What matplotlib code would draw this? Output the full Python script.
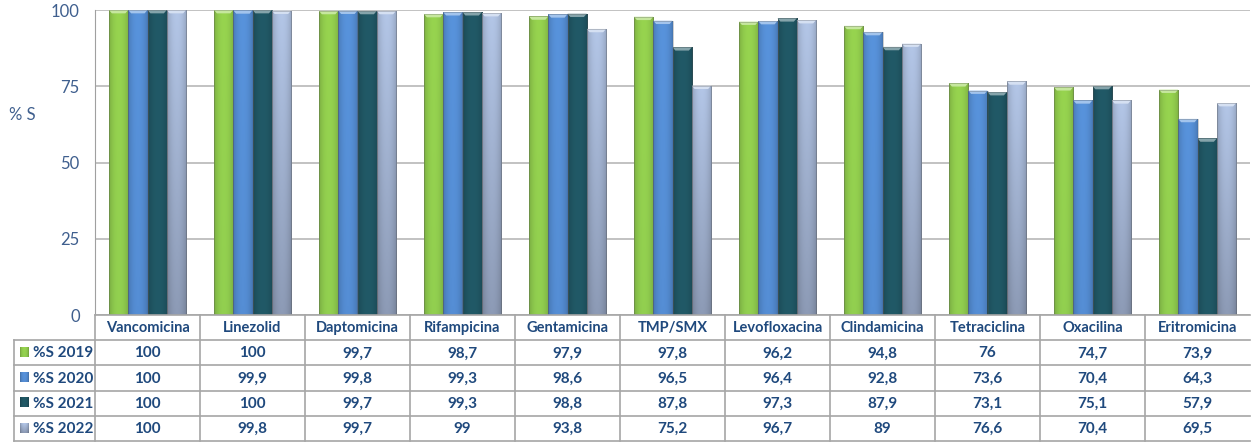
import numpy as np
import matplotlib; matplotlib.use('Agg')
import matplotlib.pyplot as plt
from matplotlib.colors import to_rgb
from matplotlib.patches import Polygon, Rectangle

antibioticos = ['Vancomicina', 'Linezolid', 'Daptomicina', 'Rifampicina', 'Gentamicina',
                'TMP/SMX', 'Levofloxacina', 'Clindamicina', 'Tetraciclina', 'Oxacilina',
                'Eritromicina']
series = ['%S 2019', '%S 2020', '%S 2021', '%S 2022']
s2019 = [100, 100, 99.7, 98.7, 97.9, 97.8, 96.2, 94.8, 76, 74.7, 73.9]
s2020 = [100, 99.9, 99.8, 99.3, 98.6, 96.5, 96.4, 92.8, 73.6, 70.4, 64.3]
s2021 = [100, 100, 99.7, 99.3, 98.8, 87.8, 97.3, 87.9, 73.1, 75.1, 57.9]
s2022 = [100, 99.8, 99.7, 99, 93.8, 75.2, 96.7, 89, 76.6, 70.4, 69.5]
valores = [s2019, s2020, s2021, s2022]
yticks = [0, 25, 50, 75, 100]

colores = ['#97D44F', '#5893DC', '#215967', '#B3C6E7']
col_base = ['#92D050', '#558ED5', '#215967', '#8D9BB6']  # tono inferior del degradado
txt = '#1F497D'
tick_c = '#3F5F8E'
grid_c = '#B8B8B8'
plt.rcParams['font.family'] = ['Lato', 'DejaVu Sans']

W, H = 1251, 443
L, R, TOP, BOT = 95, 1250, 10, 315
fig = plt.figure(figsize=(W / 100, H / 100), dpi=100)
ax = fig.add_axes([L / W, (H - BOT) / H, (R - L) / W, (BOT - TOP) / H])

n = len(antibioticos)
x = np.arange(n)
bw = 0.1835

def fill_img(c_top, c_bot, ny=60, nx=24):
    t = np.linspace(0, 1, nx)
    prof = 0.80 + 0.20 * np.sin(np.pi * t) ** 0.6
    v = np.linspace(0, 1, ny)[:, None, None]
    ct = np.array(to_rgb(c_top)); cb = np.array(to_rgb(c_bot))
    col = ct * (1 - v) + cb * v
    return np.clip(col * prof[None, :, None], 0, 1)

for j, vals in enumerate(valores):
    pos = x + (j - 1.5) * bw
    bars = ax.bar(pos, vals, width=bw, color=colores[j], edgecolor='none', zorder=2)
    img = fill_img(colores[j], col_base[j])
    top_c = tuple(min(1, c * 0.55 + 0.45) for c in to_rgb(colores[j]))
    for b in bars:
        x0, w, h = b.get_x(), b.get_width(), b.get_height()
        im = ax.imshow(img, extent=[x0, x0 + w, 0, h], aspect='auto',
                       origin='upper', zorder=3, interpolation='bilinear')
        im.set_clip_path(b)
        # bisel claro arriba
        ax.add_patch(Polygon([[x0, h], [x0 + w, h], [x0 + w * 0.85, h - 1.1],
                              [x0 + w * 0.15, h - 1.1]], closed=True,
                             facecolor=top_c, edgecolor='none', zorder=4))
        ax.add_patch(Rectangle((x0, 0), w, h, fill=False, lw=0.6,
                               edgecolor=(0.35, 0.35, 0.35, 0.35), zorder=5))

ax.set_xlim(-0.5, n - 0.5)
ax.set_ylim(0, 100)
ax.set_yticks(yticks)
ax.set_yticklabels([str(t) for t in yticks], color=tick_c, fontsize=12)
ax.tick_params(axis='y', length=0, pad=11)
ax.set_xticks([])
ax.yaxis.grid(True, color=grid_c, lw=1.2, zorder=0)
ax.set_axisbelow(True)
for s in ['top', 'right', 'bottom']:
    ax.spines[s].set_visible(False)
ax.spines['left'].set_color('#A0A0A0')
ax.set_ylabel('% S', color=tick_c, fontsize=12, rotation=0, ha='center', va='center')
ax.yaxis.set_label_coords(-73 / (R - L), 0.656)

# tabla de datos bajo el grafico
rh = 25.2
cw = (R - L) / n
tax = fig.add_axes([L / W, 0, (R - L) / W, (H - BOT) / H])
tax.axis('off')
xl = -0.5 - (L - 14) / cw
lc = '#A6A6A6'
for k in range(n):
    tax.plot([k - 0.5, k - 0.5], [0, 5], color=lc, lw=1.2, clip_on=False)
    tax.text(k, 0.52, antibioticos[k], ha='center', va='center', color=txt,
             fontsize=10.5, fontweight='bold')
    for j, vals in enumerate(valores):
        lab = f'{vals[k]:g}'.replace('.', ',')
        tax.text(k, j + 1.52, lab, ha='center', va='center', color=txt,
                 fontsize=11, fontweight='bold')
tax.plot([-0.5, n - 0.5], [0, 0], color=lc, lw=1.2, clip_on=False)
for r in range(1, 6):
    tax.plot([xl, n - 0.5], [r, r], color=lc, lw=1.2, clip_on=False)
tax.plot([xl, xl], [1, 5], color=lc, lw=1.2, clip_on=False)
kx = xl + 6 / cw
kw = 9 / cw
for j, s in enumerate(series):
    y0 = j + 1.5
    img = fill_img(colores[j], col_base[j], ny=10, nx=10)
    tax.imshow(img, extent=[kx, kx + kw, y0 + 0.17, y0 - 0.2], aspect='auto',
               origin='upper', clip_on=False, zorder=3)
    tax.text(kx + kw + 4 / cw, y0 + 0.02, s, ha='left', va='center',
             color=txt, fontsize=11, fontweight='bold', clip_on=False)
tax.set_xlim(-0.5, n - 0.5)
tax.set_ylim((H - BOT) / rh, 0)

fig.savefig('out.png', dpi=100)
